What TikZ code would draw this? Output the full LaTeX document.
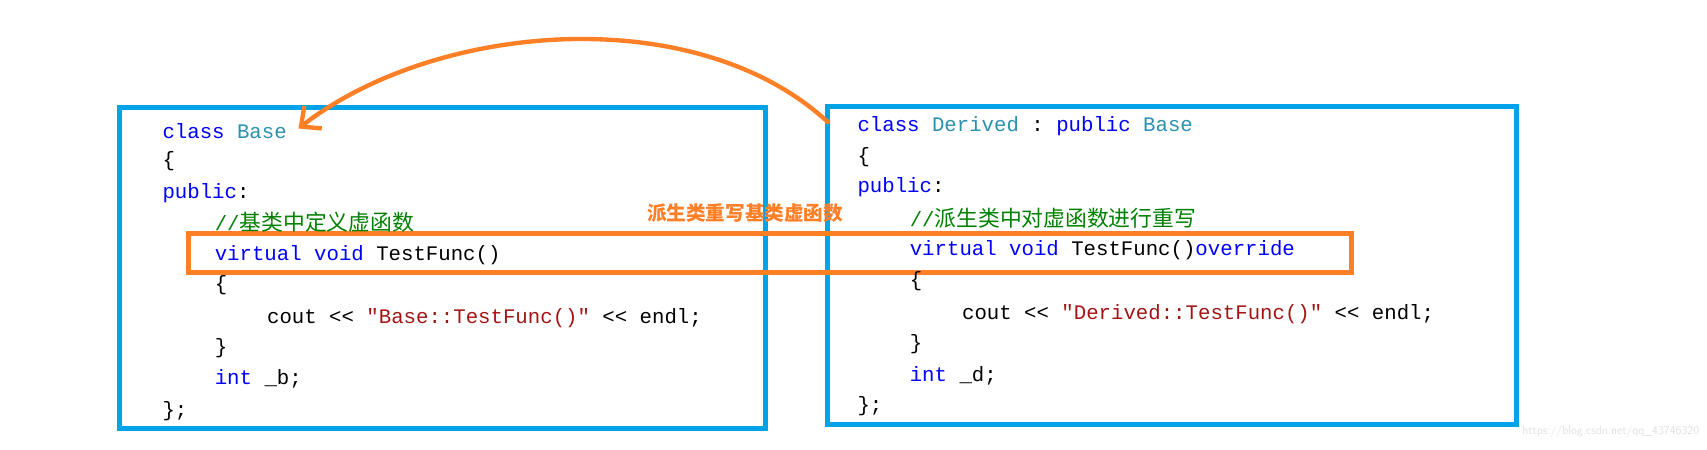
\documentclass[tikz,border=0pt]{standalone}
\usepackage{fontspec}
\setmonofont{Liberation Mono}
\newfontfamily\cjk{Noto Sans CJK SC}
\usetikzlibrary{arrows.meta}
\definecolor{kw}{RGB}{0,0,255}
\definecolor{ty}{RGB}{43,145,175}
\definecolor{cm}{RGB}{0,128,0}
\definecolor{st}{RGB}{163,21,21}
\definecolor{bx}{RGB}{0,162,232}
\definecolor{og}{RGB}{255,127,39}
\newcommand{\K}[1]{\textcolor{kw}{#1}}
\newcommand{\T}[1]{\textcolor{ty}{#1}}
\newcommand{\C}[1]{\textcolor{cm}{#1}}
\newcommand{\Sx}[1]{\textcolor{st}{#1}}
\begin{document}
\begin{tikzpicture}[x=1pt,y=-1pt,
  code/.style={anchor=west,inner sep=0pt,font=\ttfamily\fontsize{19}{19}\selectfont},
  cbox/.style={draw=bx,line width=4.5pt},
  obox/.style={draw=og,line width=4.5pt}]
\useasboundingbox (0,0) rectangle (1567,413);
\draw[cbox] (110,99) rectangle (703,393);
\draw[cbox] (760,98) rectangle (1392,390);
\draw[obox] (173,214) rectangle (1241,250);
% left code
\node[code] (l1) at (149,120) {\K{class} \T{Base}};
\node[code] (l2) at (149,148) {\{};
\node[code] (l3) at (149,177) {\K{public}:};
\node[code] (l4) at (197,204) {\C{//{\cjk\fontsize{20}{20}\selectfont 基类中定义虚函数}}};
\node[code] (l5) at (197,234) {\K{virtual} \K{void} TestFunc()};
\node[code] (l6) at (197,262) {\{};
\node[code] (l7) at (245,292) {cout << \Sx{"Base::TestFunc()"} << endl;};
\node[code] (l8) at (197,320) {\}};
\node[code] (l9) at (197,348) {\K{int} \_b;};
\node[code] (l10) at (149,377) {\};};
% right code
\node[code] (r1) at (787,116) {\K{class} \T{Derived} : \K{public} \T{Base}};
\node[code] (r2) at (787,144) {\{};
\node[code] (r3) at (787,172) {\K{public}:};
\node[code] (r4) at (835,200) {\C{//{\cjk\fontsize{20}{20}\selectfont 派生类中对虚函数进行重写}}};
\node[code] (r5) at (835,230) {\K{virtual} \K{void} TestFunc()\K{override}};
\node[code] (r6) at (835,258) {\{};
\node[code] (r7) at (883,288) {cout << \Sx{"Derived::TestFunc()"} << endl;};
\node[code] (r8) at (835,316) {\}};
\node[code] (r9) at (835,345) {\K{int} \_d;};
\node[code] (r10) at (787,373) {\};};
% label
\node[inner sep=0pt,text=og,font=\cjk\bfseries\fontsize{18}{18}\selectfont] (lab) at (684,196) {派生类重写基类虚函数};
% arrow
\coordinate (as) at (761,113);
\coordinate (ae) at (274,118);
\draw[og,line width=4pt,-{Straight Barb[length=14pt,width=26pt,line width=4pt]}]
  (as) .. controls (640,0) and (400,20) .. (ae);
\node[anchor=east,inner sep=0pt,text=black!12,font=\sffamily\fontsize{11}{11}\selectfont] (wm) at (1560,396) {https://blog.csdn.net/qq\_43746320};
\end{tikzpicture}
\end{document}
